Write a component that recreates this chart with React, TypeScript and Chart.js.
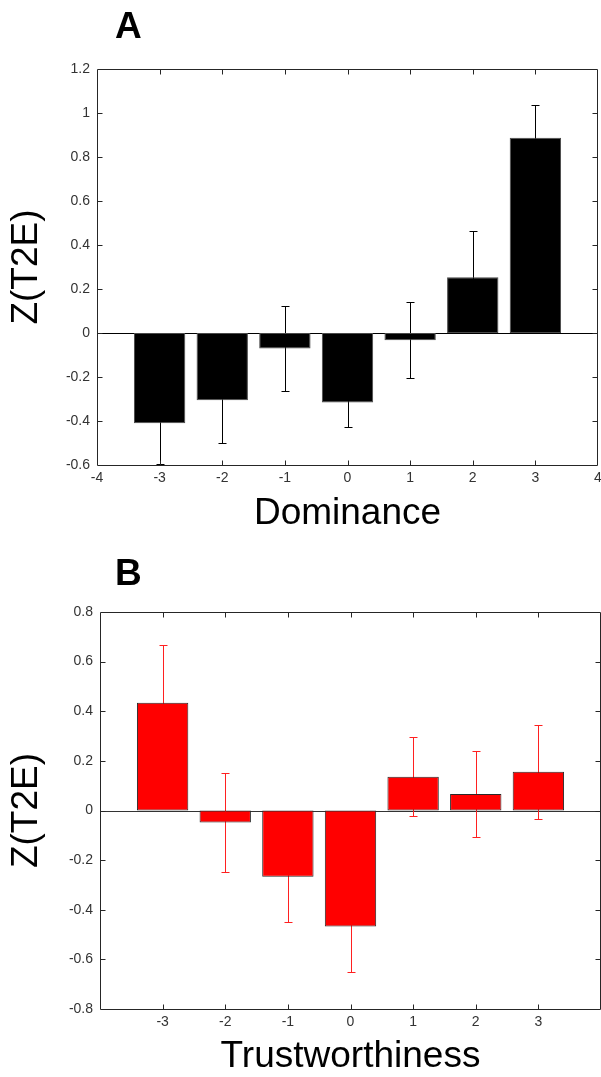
import React, { useEffect, useRef } from "react";
import { Chart, registerables } from "chart.js";

Chart.register(...registerables);

// ---------- Data ----------
const dominanceLevels = [-3, -2, -1, 0, 1, 2, 3];
const dominanceMeans = [-0.41, -0.306, -0.07, -0.316, -0.033, 0.253, 0.888];
const dominanceErrors = [0.185, 0.192, 0.195, 0.113, 0.172, 0.21, 0.147];
const dominanceXTicks = [-4, -3, -2, -1, 0, 1, 2, 3, 4];
const dominanceYTicks = [-0.6, -0.4, -0.2, 0, 0.2, 0.4, 0.6, 0.8, 1, 1.2];

const trustLevels = [-3, -2, -1, 0, 1, 2, 3];
const trustMeans = [0.434, -0.048, -0.267, -0.468, 0.136, 0.067, 0.156];
const trustErrors = [0.232, 0.198, 0.182, 0.184, 0.159, 0.173, 0.189];
const trustXTicks = [-3, -2, -1, 0, 1, 2, 3];
const trustYTicks = [-0.8, -0.6, -0.4, -0.2, 0, 0.2, 0.4, 0.6, 0.8];

const FONT = "'Liberation Sans', Arial, sans-serif";

function fmt(v: number): string {
  return String(Math.round(v * 10) / 10);
}

const panelPlugin = {
  id: "panelDecor",
  beforeDatasetsDraw(chart: any, _args: any, opts: any) {
    const { ctx, chartArea: a } = chart;
    const x = chart.scales.x;
    const y = chart.scales.y;
    const y0 = Math.round(y.getPixelForValue(0)) + 0.5;
    ctx.save();
    ctx.strokeStyle = opts.baseColor;
    ctx.lineWidth = 1;
    ctx.beginPath();
    ctx.moveTo(a.left, y0);
    ctx.lineTo(a.right, y0);
    ctx.stroke();
    // error bars (drawn beneath the bars, so only the outer part shows)
    ctx.strokeStyle = opts.errColor;
    const levels: number[] = opts.levels;
    const means: number[] = opts.means;
    const errs: number[] = opts.errors;
    levels.forEach((lv, i) => {
      const xp = Math.round(x.getPixelForValue(lv)) + 0.5;
      const top = Math.round(y.getPixelForValue(means[i] + errs[i])) + 0.5;
      const bot = Math.round(y.getPixelForValue(means[i] - errs[i])) + 0.5;
      ctx.beginPath();
      ctx.moveTo(xp, top);
      ctx.lineTo(xp, bot);
      ctx.moveTo(xp - 4, top);
      ctx.lineTo(xp + 4, top);
      ctx.moveTo(xp - 4, bot);
      ctx.lineTo(xp + 4, bot);
      ctx.stroke();
    });
    ctx.restore();
  },
  afterDatasetsDraw(chart: any, _args: any, opts: any) {
    const { ctx, chartArea: a } = chart;
    const x = chart.scales.x;
    const y = chart.scales.y;
    ctx.save();
    ctx.lineWidth = 1;
    // frame
    ctx.strokeStyle = opts.frameColor;
    const L = Math.round(a.left) + 0.5;
    const R = Math.round(a.right) - 0.5;
    const T = Math.round(a.top) + 0.5;
    const B = Math.round(a.bottom) + 0.5;
    ctx.beginPath();
    ctx.moveTo(L, T);
    ctx.lineTo(R, T);
    ctx.lineTo(R, B);
    ctx.lineTo(L, B);
    ctx.closePath();
    ctx.stroke();
    // inner tick marks
    const tl = 5;
    ctx.beginPath();
    x.ticks.forEach((t: any) => {
      if (t.value <= x.min || t.value >= x.max) return;
      const px = Math.round(x.getPixelForValue(t.value)) + 0.5;
      ctx.moveTo(px, B);
      ctx.lineTo(px, B - tl);
      ctx.moveTo(px, T);
      ctx.lineTo(px, T + tl);
    });
    y.ticks.forEach((t: any) => {
      if (t.value <= y.min || t.value >= y.max) return;
      const py = Math.round(y.getPixelForValue(t.value)) + 0.5;
      ctx.moveTo(L, py);
      ctx.lineTo(L + tl, py);
      ctx.moveTo(R, py);
      ctx.lineTo(R - tl, py);
    });
    ctx.stroke();
    ctx.restore();
  },
  afterDraw(chart: any, _args: any, opts: any) {
    const { ctx } = chart;
    ctx.save();
    ctx.fillStyle = "#000";
    ctx.font = `bold 37px ${FONT}`;
    ctx.textAlign = "left";
    ctx.textBaseline = "alphabetic";
    ctx.fillText(opts.panelLabel, opts.labelX, opts.labelY);
    ctx.restore();
  },
};

type PanelSpec = {
  levels: number[];
  means: number[];
  errors: number[];
  xTicks: number[];
  yTicks: number[];
  yMin: number;
  yMax: number;
  xTitle: string;
  panelLabel: string;
  labelY: number;
  barColor: string;
  barBorder: string;
  errColor: string;
  baseColor: string;
  width: number;
  height: number;
  padTop: number;
  padRight: number;
  yAxisWidth: number;
  xAxisHeight: number;
  xTitlePad: number;
};

function Panel({ spec }: { spec: PanelSpec }) {
  const ref = useRef<HTMLCanvasElement | null>(null);
  useEffect(() => {
    if (!ref.current) return;
    const s = spec;
    const chart = new Chart(ref.current, {
      type: "bar",
      data: {
        datasets: [
          {
            data: s.levels.map((l, i) => ({ x: l, y: s.means[i] })),
            backgroundColor: s.barColor,
            borderColor: s.barBorder,
            borderWidth: 1,
            borderSkipped: false,
            barPercentage: 0.82,
            categoryPercentage: 1,
          } as any,
        ],
      },
      options: {
        responsive: false,
        animation: false,
        events: [],
        layout: { padding: { left: 0, top: s.padTop, right: s.padRight, bottom: 0 } },
        plugins: {
          legend: { display: false },
          tooltip: { enabled: false },
          title: { display: false },
          panelDecor: {
            levels: s.levels,
            means: s.means,
            errors: s.errors,
            errColor: s.errColor,
            baseColor: s.baseColor,
            frameColor: "#262626",
            panelLabel: s.panelLabel,
            labelX: 115,
            labelY: s.labelY,
          },
        } as any,
        scales: {
          x: {
            type: "linear",
            min: -4,
            max: 4,
            offset: false,
            grid: { display: false, drawTicks: false },
            border: { display: false },
            ticks: {
              padding: 5,
              color: "#333",
              font: { family: FONT, size: 14 },
              autoSkip: false,
              maxRotation: 0,
              callback: (v: any) => fmt(Number(v)),
            },
            afterBuildTicks: (sc: any) => {
              sc.ticks = s.xTicks.map((v) => ({ value: v }));
            },
            afterFit: (sc: any) => {
              sc.height = s.xAxisHeight;
              sc.paddingLeft = 0;
              sc.paddingRight = 0;
            },
            title: {
              display: true,
              text: s.xTitle,
              color: "#000",
              font: { family: FONT, size: 37, lineHeight: 1 },
              padding: { top: 0, bottom: s.xTitlePad },
            },
          },
          y: {
            type: "linear",
            min: s.yMin,
            max: s.yMax,
            grid: { display: false, drawTicks: false },
            border: { display: false },
            ticks: {
              padding: 7,
              color: "#333",
              font: { family: FONT, size: 14 },
              autoSkip: false,
              callback: (v: any) => fmt(Number(v)),
            },
            afterBuildTicks: (sc: any) => {
              sc.ticks = s.yTicks.map((v) => ({ value: v }));
            },
            afterFit: (sc: any) => {
              sc.width = s.yAxisWidth;
              sc.paddingTop = 0;
              sc.paddingBottom = 0;
            },
            title: {
              display: true,
              text: "Z(T2E)",
              color: "#000",
              font: { family: FONT, size: 37, lineHeight: 1 },
              padding: { top: 8.5, bottom: 0 },
            },
          },
        } as any,
      },
      plugins: [panelPlugin as any],
    });
    return () => chart.destroy();
  }, [spec]);
  return (
    <canvas
      ref={ref}
      width={spec.width}
      height={spec.height}
      style={{ display: "block", width: spec.width, height: spec.height }}
    />
  );
}

const panelA: PanelSpec = {
  levels: dominanceLevels,
  means: dominanceMeans,
  errors: dominanceErrors,
  xTicks: dominanceXTicks,
  yTicks: dominanceYTicks,
  yMin: -0.6,
  yMax: 1.2,
  xTitle: "Dominance",
  panelLabel: "A",
  labelY: 38,
  barColor: "#000000",
  barBorder: "#4a4a4a",
  errColor: "#000000",
  baseColor: "#000000",
  width: 601,
  height: 540,
  padTop: 69,
  padRight: 3,
  yAxisWidth: 97,
  xAxisHeight: 75,
  xTitlePad: 7.5,
};

const panelB: PanelSpec = {
  levels: trustLevels,
  means: trustMeans,
  errors: trustErrors,
  xTicks: trustXTicks,
  yTicks: trustYTicks,
  yMin: -0.8,
  yMax: 0.8,
  xTitle: "Trustworthiness",
  panelLabel: "B",
  labelY: 45,
  barColor: "#ff0000",
  barBorder: "#2a2a2a",
  errColor: "#ff2020",
  baseColor: "#333333",
  width: 601,
  height: 537,
  padTop: 72,
  padRight: 0,
  yAxisWidth: 100,
  xAxisHeight: 68,
  xTitlePad: 1.5,
};

export default function App() {
  return (
    <div
      style={{
        position: "absolute",
        left: 0,
        top: 0,
        width: 601,
        height: 1077,
        background: "#fff",
        overflow: "hidden",
      }}
    >
      <Panel spec={panelA} />
      <Panel spec={panelB} />
    </div>
  );
}
